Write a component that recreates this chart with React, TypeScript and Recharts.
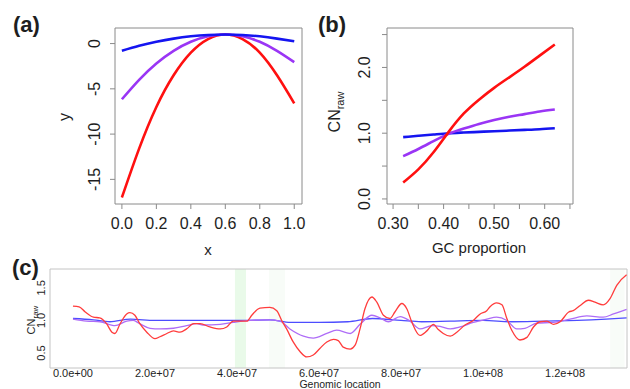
import React from "react"
import { LineChart, Line, XAxis, YAxis, ReferenceArea } from "recharts"

// (a) fitted curves, read at x = 0 .. 1
const fitX = [0, 0.1, 0.2, 0.3, 0.4, 0.5, 0.6, 0.7, 0.8, 0.9, 1.0]
const fitRed = [-17, -11.6, -7.0, -3.5, -1.0, 0.5, 1.0, 0.5, -1.0, -3.5, -6.6]
const fitPurple = [-6.15, -4.0, -2.2, -0.8, 0.2, 0.8, 1.0, 0.8, 0.2, -0.8, -2.05]
const fitBlue = [-0.8, -0.25, 0.2, 0.55, 0.8, 0.95, 1.0, 0.95, 0.8, 0.55, 0.25]
const aXTicks = [0, 0.2, 0.4, 0.6, 0.8, 1.0]
const aXLabels = ["0.0", "0.2", "0.4", "0.6", "0.8", "1.0"]
const aYTicks = [-15, -10, -5, 0]
const aYLabels = ["-15", "-10", "-5", "0"]

// (b) CN_raw against GC proportion
const gcX = [0.32, 0.35, 0.38, 0.41, 0.44, 0.47, 0.5, 0.53, 0.56, 0.59, 0.62]
const gcRed = [0.25, 0.45, 0.71, 1.02, 1.3, 1.51, 1.69, 1.85, 2.01, 2.18, 2.35]
const gcPurple = [0.65, 0.76, 0.88, 0.99, 1.07, 1.14, 1.2, 1.25, 1.29, 1.33, 1.36]
const gcBlue = [0.94, 0.96, 0.98, 1.0, 1.01, 1.02, 1.03, 1.04, 1.05, 1.06, 1.075]
const bXTicks = [0.3, 0.35, 0.4, 0.45, 0.5, 0.55, 0.6, 0.65]
const bXLabels = ["0.30", "", "0.40", "", "0.50", "", "0.60", ""]
const bYTicks = [0, 0.5, 1, 1.5, 2, 2.5]
const bYLabels = ["0.0", "", "1.0", "", "2.0", ""]

// (c) genomic tracks, position in units of 1e7 bp
type Pt = [number, number]
const trackRed: Pt[] = [
    [0.0, 1.22], [0.15, 1.21], [0.3, 1.13], [0.5, 1.05], [0.65, 1.04], [0.82, 0.95],
    [0.95, 0.82], [1.02, 0.8], [1.15, 0.95], [1.31, 1.1], [1.39, 1.12], [1.51, 1.08],
    [1.63, 0.95], [1.8, 0.82], [2.0, 0.72], [2.12, 0.75], [2.29, 0.8], [2.45, 0.84],
    [2.61, 0.82], [2.77, 0.87], [2.94, 0.95], [3.1, 0.95], [3.34, 0.9], [3.59, 0.87],
    [3.75, 0.9], [3.91, 0.99], [4.24, 0.99], [4.36, 1.08], [4.56, 1.19], [4.8, 1.2],
    [4.97, 1.15], [5.09, 1.0], [5.21, 0.87], [5.37, 0.67], [5.54, 0.52], [5.7, 0.44],
    [5.86, 0.47], [6.02, 0.57], [6.19, 0.67], [6.35, 0.71], [6.47, 0.69], [6.59, 0.59],
    [6.76, 0.56], [6.88, 0.62], [7.0, 0.87], [7.12, 1.18], [7.29, 1.36], [7.41, 1.28],
    [7.57, 1.08], [7.73, 1.03], [7.85, 1.13], [8.02, 1.26], [8.14, 1.18], [8.26, 0.98],
    [8.46, 0.77], [8.63, 0.84], [8.79, 0.94], [8.91, 0.86], [9.03, 0.8], [9.2, 0.76],
    [9.36, 0.82], [9.56, 0.93], [9.76, 1.0], [9.93, 1.1], [10.09, 1.15], [10.17, 1.21],
    [10.33, 1.27], [10.46, 1.24], [10.58, 1.03], [10.7, 0.85], [10.9, 0.7], [11.07, 0.74],
    [11.23, 0.9], [11.39, 0.98], [11.56, 0.99], [11.72, 0.94], [11.88, 0.98], [12.09, 1.13],
    [12.2, 1.15], [12.37, 1.23], [12.57, 1.31], [12.73, 1.28], [12.93, 1.24], [13.1, 1.34],
    [13.26, 1.54], [13.5, 1.7],
]
const trackPurple: Pt[] = [
    [0.0, 1.02], [0.33, 0.99], [0.66, 0.98], [0.94, 0.93], [1.02, 0.92], [1.31, 0.99],
    [1.47, 1.0], [1.63, 0.95], [1.88, 0.88], [2.12, 0.87], [2.45, 0.88], [2.77, 0.92],
    [3.02, 0.95], [3.17, 0.93], [3.59, 0.94], [3.91, 0.97], [4.32, 1.0], [4.8, 1.01],
    [5.05, 0.99], [5.29, 0.87], [5.62, 0.76], [5.86, 0.73], [6.19, 0.8], [6.43, 0.85],
    [6.68, 0.81], [6.76, 0.8], [7.0, 0.94], [7.29, 1.08], [7.49, 1.04], [7.69, 0.98],
    [7.98, 1.06], [8.22, 0.99], [8.46, 0.87], [8.75, 0.92], [8.95, 0.91], [9.2, 0.87],
    [9.44, 0.9], [9.76, 0.97], [10.09, 1.02], [10.33, 1.05], [10.58, 1.0], [10.82, 0.87],
    [11.02, 0.88], [11.31, 0.96], [11.71, 0.97], [12.12, 1.02], [12.53, 1.07], [12.93, 1.05],
    [13.18, 1.1], [13.5, 1.17],
]
const trackBlue: Pt[] = [
    [0.0, 1.03], [0.5, 1.01], [0.9, 0.98], [1.4, 1.02], [2.0, 1.0], [3.0, 1.0],
    [4.0, 1.0], [4.8, 1.01], [5.3, 0.97], [6.0, 0.97], [6.7, 0.98], [7.3, 1.03],
    [8.0, 1.0], [8.5, 0.98], [9.2, 0.99], [10.0, 1.0], [10.7, 0.98], [11.5, 0.99],
    [12.3, 1.0], [13.0, 1.02], [13.5, 1.04],
]
const highlightBands: Pt[] = [[3.95, 4.22]]
const faintBands: Pt[] = [[4.78, 5.17], [13.1, 13.45]]
const cXTicks = [0, 2, 4, 6, 8, 10, 12]
const cXLabels = ["0.0e+00", "2.0e+07", "4.0e+07", "6.0e+07", "8.0e+07", "1.0e+08", "1.2e+08"]
const cYTicks = [0.5, 1.0, 1.5]
const cYLabels = ["0.5", "1.0", "1.5"]

const FONT = "'Liberation Sans', Arial, Helvetica, sans-serif"
const INK = "#1e1e1e"
const FRAME = "#8a8a8a"

const toRows = (pts: Pt[]) => pts.map(([x, y]) => ({ x, y }))

function UpTick(props: any) {
    const { x, y, payload, labels, ticks, size } = props
    const label = labels[ticks.indexOf(payload.value)]
    if (!label) return <g />
    return (
        <text
            x={x}
            y={y}
            transform={`rotate(-90 ${x} ${y})`}
            textAnchor="middle"
            fontSize={size}
            fontFamily={FONT}
            fill={INK}
        >
            {label}
        </text>
    )
}

function DownTick(props: any) {
    const { x, y, payload, labels, ticks, size } = props
    const label = labels[ticks.indexOf(payload.value)]
    if (!label) return <g />
    return (
        <text x={x} y={y} dy="0.72em" textAnchor="middle" fontSize={size} fontFamily={FONT} fill={INK}>
            {label}
        </text>
    )
}

function PanelA() {
    const rows = fitX.map((x, i) => ({ x, red: fitRed[i], purple: fitPurple[i], blue: fitBlue[i] }))
    const xd: [number, number] = [-0.04, 1.045]
    const yd: [number, number] = [-17.72, 1.72]
    return (
        <LineChart width={310} height={260} data={rows} margin={{ top: 28, right: 8, bottom: 0, left: 0 }}>
            <XAxis
                type="number"
                dataKey="x"
                domain={xd}
                allowDataOverflow
                ticks={aXTicks}
                interval={0}
                height={56}
                axisLine={false}
                tickSize={5}
                tickMargin={8}
                tickLine={{ stroke: FRAME }}
                tick={(p: any) => <DownTick {...p} labels={aXLabels} ticks={aXTicks} size={16} />}
            />
            <YAxis
                type="number"
                domain={yd}
                allowDataOverflow
                ticks={aYTicks}
                interval={0}
                width={115}
                axisLine={false}
                tickSize={5}
                tickMargin={10}
                tickLine={{ stroke: FRAME }}
                tick={(p: any) => <UpTick {...p} labels={aYLabels} ticks={aYTicks} size={16} />}
            />
            <ReferenceArea x1={xd[0]} x2={xd[1]} y1={yd[0]} y2={yd[1]} fill="none" stroke={FRAME} ifOverflow="visible" />
            <Line dataKey="red" type="natural" stroke="#ff1010" strokeWidth={2.6} dot={false} isAnimationActive={false} />
            <Line dataKey="purple" type="natural" stroke="#9a35f5" strokeWidth={2.6} dot={false} isAnimationActive={false} />
            <Line dataKey="blue" type="natural" stroke="#1515f0" strokeWidth={2.6} dot={false} isAnimationActive={false} />
        </LineChart>
    )
}

function PanelB() {
    const rows = gcX.map((x, i) => ({ x, red: gcRed[i], purple: gcPurple[i], blue: gcBlue[i] }))
    const xd: [number, number] = [0.288, 0.656]
    const yd: [number, number] = [-0.077, 2.6]
    return (
        <LineChart width={320} height={260} data={rows} margin={{ top: 28, right: 57, bottom: 0, left: 0 }}>
            <XAxis
                type="number"
                dataKey="x"
                domain={xd}
                allowDataOverflow
                ticks={bXTicks}
                interval={0}
                height={56}
                axisLine={false}
                tickSize={5}
                tickMargin={8}
                tickLine={{ stroke: FRAME }}
                tick={(p: any) => <DownTick {...p} labels={bXLabels} ticks={bXTicks} size={16} />}
            />
            <YAxis
                type="number"
                domain={yd}
                allowDataOverflow
                ticks={bYTicks}
                interval={0}
                width={77}
                axisLine={false}
                tickSize={5}
                tickMargin={12}
                tickLine={{ stroke: FRAME }}
                tick={(p: any) => <UpTick {...p} labels={bYLabels} ticks={bYTicks} size={16} />}
            />
            <ReferenceArea x1={xd[0]} x2={xd[1]} y1={yd[0]} y2={yd[1]} fill="none" stroke={FRAME} ifOverflow="visible" />
            <Line dataKey="blue" type="natural" stroke="#1515f0" strokeWidth={2.6} dot={false} isAnimationActive={false} />
            <Line dataKey="purple" type="natural" stroke="#9a35f5" strokeWidth={2.6} dot={false} isAnimationActive={false} />
            <Line dataKey="red" type="natural" stroke="#ff1010" strokeWidth={2.6} dot={false} isAnimationActive={false} />
        </LineChart>
    )
}

function PanelC() {
    const xd: [number, number] = [-0.56, 13.51]
    const yd: [number, number] = [0.27, 1.79]
    return (
        <LineChart width={630} height={149} margin={{ top: 29, right: 3, bottom: 0, left: 0 }}>
            <XAxis
                type="number"
                dataKey="x"
                domain={xd}
                allowDataOverflow
                ticks={cXTicks}
                interval={0}
                height={21}
                axisLine={false}
                tickLine={false}
                tickSize={0}
                tickMargin={1}
                tick={(p: any) => <DownTick {...p} labels={cXLabels} ticks={cXTicks} size={11} />}
            />
            <YAxis
                type="number"
                dataKey="y"
                domain={yd}
                allowDataOverflow
                ticks={cYTicks}
                interval={0}
                width={50}
                axisLine={false}
                tickLine={false}
                tickSize={0}
                tickMargin={5}
                tick={(p: any) => <UpTick {...p} labels={cYLabels} ticks={cYTicks} size={11} />}
            />
            {faintBands.map(([a, b]) => (
                <ReferenceArea key={a} x1={a} x2={b} y1={yd[0]} y2={yd[1]} fill="#f8fcf8" fillOpacity={1} stroke="none" />
            ))}
            {highlightBands.map(([a, b]) => (
                <ReferenceArea key={a} x1={a} x2={b} y1={yd[0]} y2={yd[1]} fill="#e9fae9" fillOpacity={1} stroke="none" />
            ))}
            <ReferenceArea x1={xd[0]} x2={xd[1]} y1={yd[0]} y2={yd[1]} fill="none" stroke="#c4c4c4" ifOverflow="visible" />
            <Line data={toRows(trackBlue)} dataKey="y" type="monotone" stroke="#4d4dff" strokeWidth={1.3} dot={false} isAnimationActive={false} />
            <Line data={toRows(trackPurple)} dataKey="y" type="monotone" stroke="#ae6cf7" strokeWidth={1.3} dot={false} isAnimationActive={false} />
            <Line data={toRows(trackRed)} dataKey="y" type="monotone" stroke="#ff3c3c" strokeWidth={1.3} dot={false} isAnimationActive={false} />
        </LineChart>
    )
}

export default function App() {
    const t = { fontFamily: FONT, fill: INK }
    return (
        <div style={{ position: "absolute", left: 0, top: 0, width: 630, height: 389, background: "#fff" }}>
            <div style={{ position: "absolute", left: 0, top: 0 }}>
                <PanelA />
            </div>
            <div style={{ position: "absolute", left: 310, top: 0 }}>
                <PanelB />
            </div>
            <div style={{ position: "absolute", left: 0, top: 240 }}>
                <PanelC />
            </div>
            <svg width={630} height={389} style={{ position: "absolute", left: 0, top: 0, pointerEvents: "none" }}>
                <text x={13} y={32} fontSize={22} fontWeight="bold" {...t}>(a)</text>
                <text x={318} y={32} fontSize={22} fontWeight="bold" {...t}>(b)</text>
                <text x={12} y={275} fontSize={22} fontWeight="bold" {...t}>(c)</text>
                <text x={70} y={117} transform="rotate(-90 70 117)" textAnchor="middle" fontSize={16} {...t}>y</text>
                <text x={208} y={255} textAnchor="middle" fontSize={15} {...t}>x</text>
                <text x={340} y={112} transform="rotate(-90 340 112)" textAnchor="middle" fontSize={16} {...t}>
                    CN<tspan fontSize={11} dy={4}>raw</tspan>
                </text>
                <text x={479} y={253} textAnchor="middle" fontSize={15} {...t}>GC proportion</text>
                <text x={35} y={320} transform="rotate(-90 35 320)" textAnchor="middle" fontSize={11} {...t}>
                    CN<tspan fontSize={8} dy={3}>raw</tspan>
                </text>
                <text x={340} y={388} textAnchor="middle" fontSize={10.5} {...t}>Genomic location</text>
            </svg>
        </div>
    )
}
